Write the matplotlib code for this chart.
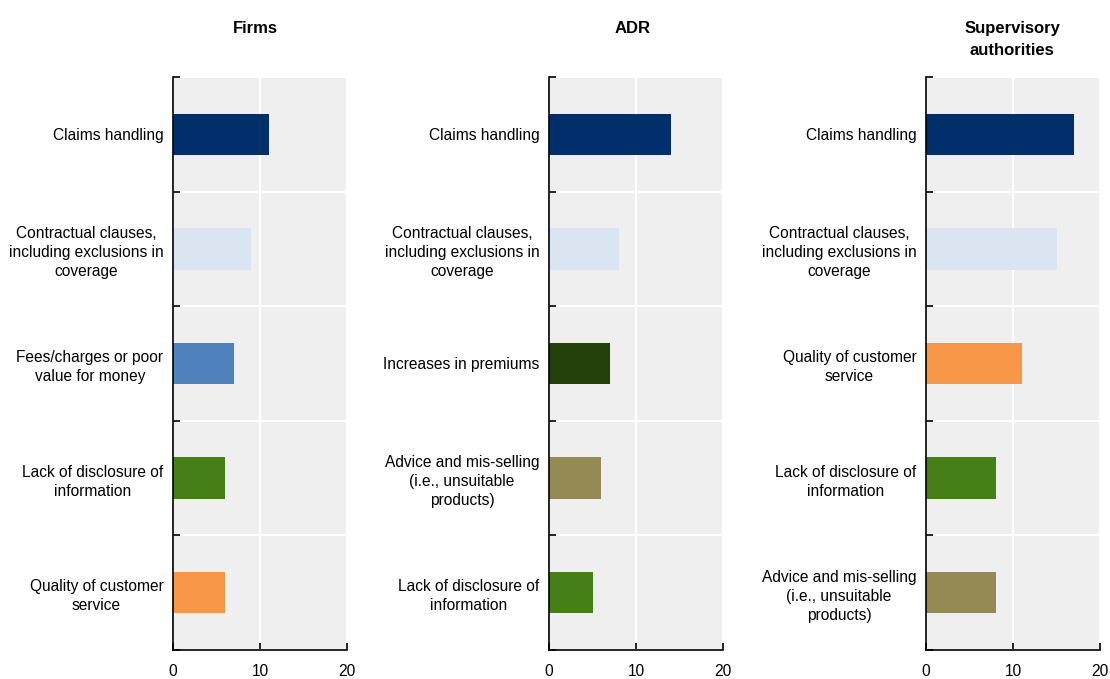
import matplotlib.pyplot as plt
import numpy as np

plt.rcParams['font.family'] = ['Liberation Sans', 'DejaVu Sans']

titles = ["Firms", "ADR", "Supervisory\nauthorities"]

firms_labels = ["Claims handling",
                "Contractual clauses,\nincluding exclusions in\ncoverage",
                "Fees/charges or poor\nvalue for money",
                "Lack of disclosure of\ninformation",
                "Quality of customer\nservice"]
firms_values = [11, 9, 7, 6, 6]
firms_colors = ["#002F6C", "#DBE5F1", "#4F81BD", "#467F18", "#F79646"]

adr_labels = ["Claims handling",
              "Contractual clauses,\nincluding exclusions in\ncoverage",
              "Increases in premiums",
              "Advice and mis-selling\n(i.e., unsuitable\nproducts)",
              "Lack of disclosure of\ninformation"]
adr_values = [14, 8, 7, 6, 5]
adr_colors = ["#002F6C", "#DBE5F1", "#233F0A", "#948A54", "#467F18"]

sup_labels = ["Claims handling",
              "Contractual clauses,\nincluding exclusions in\ncoverage",
              "Quality of customer\nservice",
              "Lack of disclosure of\ninformation",
              "Advice and mis-selling\n(i.e., unsuitable\nproducts)"]
sup_values = [17, 15, 11, 8, 8]
sup_colors = ["#002F6C", "#DBE5F1", "#F79646", "#467F18", "#948A54"]

panels = [(firms_labels, firms_values, firms_colors),
          (adr_labels, adr_values, adr_colors),
          (sup_labels, sup_values, sup_colors)]

fig = plt.figure(figsize=(11.1, 6.79), dpi=100)
lefts = [173, 549, 926]
title_x = [255, 633, 1012]

for i, (labels, values, colors) in enumerate(panels):
    ax = fig.add_axes([lefts[i] / 1110, 1 - 650 / 679, 174 / 1110, 573 / 679])
    ax.set_facecolor("#EFEFEF")
    n = len(labels)
    y = np.arange(n)
    ax.barh(y, values, height=0.36, color=colors, zorder=3)
    ax.set_ylim(n - 0.5, -0.5)
    ax.set_xlim(0, 20)
    ax.set_xticks([0, 10, 20])
    ax.set_yticks(y)
    ax.set_yticklabels(labels, fontsize=11.2, color="#000000",
                       multialignment="center", linespacing=1.33)
    ax.tick_params(axis="y", length=0, pad=7)
    ax.set_yticks(np.arange(n + 1) - 0.5, minor=True)
    ax.tick_params(axis="y", which="minor", direction="in", length=5, width=1.2)
    ax.tick_params(axis="x", direction="in", length=5, width=1.2, labelsize=11.2, pad=10)
    ax.grid(axis="x", color="white", linewidth=1.5, zorder=1)
    ax.grid(axis="y", which="minor", color="white", linewidth=1.5, zorder=1)
    for s in ["top", "right"]:
        ax.spines[s].set_visible(False)
    for s in ["left", "bottom"]:
        ax.spines[s].set_linewidth(1.2)
        ax.spines[s].set_zorder(4)
    fig.text(title_x[i] / 1110, 1 - 21 / 679, titles[i], fontsize=12,
             fontweight="bold", ha="center", va="top",
             multialignment="center", linespacing=1.6)

fig.savefig("out.png", dpi=100)
